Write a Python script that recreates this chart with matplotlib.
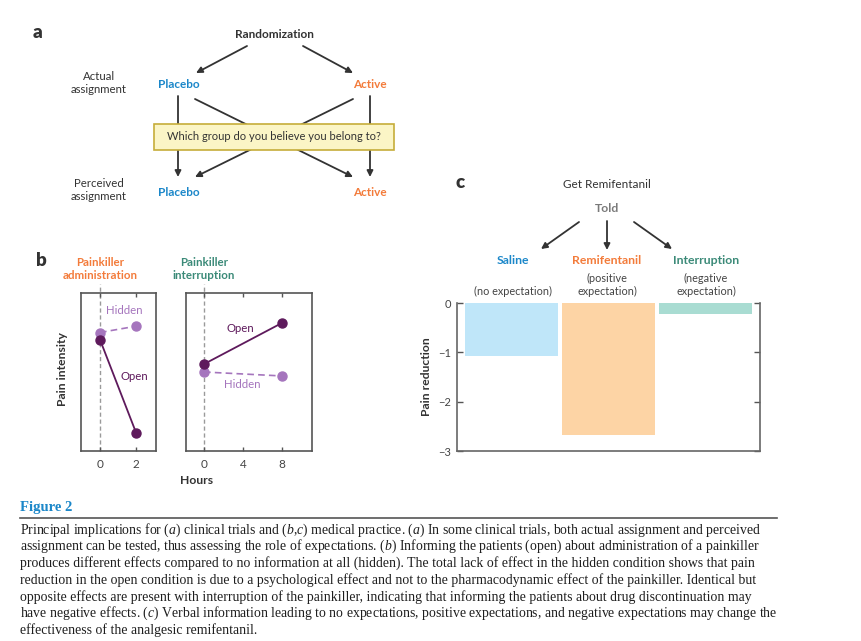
import matplotlib.pyplot as plt

plt.rcParams['font.family'] = ['Lato', 'DejaVu Sans']
plt.rcParams['mathtext.fontset'] = 'custom'
plt.rcParams['mathtext.it'] = 'Liberation Serif:italic'
plt.rcParams['mathtext.rm'] = 'Liberation Serif'

W, H = 862, 641

# panel b data (pain intensity, arbitrary units 0-10)
admin_hours = [0, 2]
admin_open = [7.05, 1.15]
admin_hidden = [7.5, 7.9]
interr_hours = [0, 8]
interr_open = [5.5, 8.1]
interr_hidden = [5.0, 4.75]

# panel c data
groups = ['Saline', 'Remifentanil', 'Interruption']
subtitles = ['(no expectation)', '(positive\nexpectation)', '(negative\nexpectation)']
pain_reduction = [-1.08, -2.68, -0.23]

caption = [
    "Principal implications for ($\\it{a}$) clinical trials and ($\\it{b}$,$\\it{c}$) medical practice. ($\\it{a}$) In some clinical trials, both actual assignment and perceived",
    "assignment can be tested, thus assessing the role of expectations. ($\\it{b}$) Informing the patients (open) about administration of a painkiller",
    "produces different effects compared to no information at all (hidden). The total lack of effect in the hidden condition shows that pain",
    "reduction in the open condition is due to a psychological effect and not to the pharmacodynamic effect of the painkiller. Identical but",
    "opposite effects are present with interruption of the painkiller, indicating that informing the patients about drug discontinuation may",
    "have negative effects. ($\\it{c}$) Verbal information leading to no expectations, positive expectations, and negative expectations may change the",
    "effectiveness of the analgesic remifentanil.",
]

BLUE = '#1b87c9'
ORANGE = '#f37b3a'
GREEN = '#3b8a78'
DARK = '#333333'
OPEN_C = '#5e1a5c'
HID_C = '#a575bd'
BAR_C = ['#bfe6f9', '#fdd4a5', '#a9dcd2']

fig = plt.figure(figsize=(W / 100, H / 100), dpi=100)


def px_axes(l, t, r, b, **kw):
    return fig.add_axes([l / W, 1 - b / H, (r - l) / W, (b - t) / H], **kw)


ov = px_axes(0, 0, W, H, zorder=5)
ov.set_xlim(0, W)
ov.set_ylim(H, 0)
ov.axis('off')


def arrow(x0, y0, x1, y1):
    ov.annotate('', xy=(x1, y1), xytext=(x0, y0),
                arrowprops=dict(arrowstyle='-|>', color=DARK, lw=1.3,
                                mutation_scale=9, shrinkA=0, shrinkB=0))


# ---- panel a ----
ov.text(38, 33, 'a', fontsize=13.5, fontweight='heavy', color=DARK, ha='center', va='center')
ov.text(274, 35, 'Randomization', fontsize=8.5, fontweight='bold', color=DARK, ha='center', va='center')
arrow(247, 46, 196, 73)
arrow(303, 46, 353, 73)
ov.text(99, 83, 'Actual\nassignment', fontsize=8.2, color=DARK, ha='center', va='center', linespacing=1.25)
ov.text(99, 190, 'Perceived\nassignment', fontsize=8.2, color=DARK, ha='center', va='center', linespacing=1.25)
for y in (84, 192):
    ov.text(179, y, 'Placebo', fontsize=8.5, fontweight='bold', color=BLUE, ha='center', va='center')
    ov.text(370, y, 'Active', fontsize=8.5, fontweight='bold', color=ORANGE, ha='center', va='center')
arrow(178, 96, 178, 177)
arrow(370, 96, 370, 177)
arrow(195, 99, 353, 177)
arrow(353, 99, 195, 177)
ov.add_patch(plt.Rectangle((154, 124), 240, 26, facecolor='#fbf5c6', edgecolor='#c6ad3a', lw=1.2, zorder=3))
ov.text(274, 137, 'Which group do you believe you belong to?', fontsize=8.0, color=DARK,
        ha='center', va='center', zorder=4)

# ---- panel b ----
ov.text(41, 260, 'b', fontsize=13.5, fontweight='heavy', color=DARK, ha='center', va='center')
ov.text(100, 269, 'Painkiller\nadministration', fontsize=8.3, fontweight='bold', color=ORANGE,
        ha='center', va='center', linespacing=1.3)
ov.text(204, 269, 'Painkiller\ninterruption', fontsize=8.3, fontweight='bold', color=GREEN,
        ha='center', va='center', linespacing=1.3)

axl = px_axes(81, 293, 156, 451)
axr = px_axes(186, 293, 312, 451)
for ax, hrs, op, hid, xl, ticks in ((axl, admin_hours, admin_open, admin_hidden, (-1.05, 3.1), [0, 2]),
                                    (axr, interr_hours, interr_open, interr_hidden, (-1.85, 11.1), [0, 4, 8])):
    ax.set_xlim(*xl)
    ax.set_ylim(0, 10)
    ax.plot([0, 0], [0, 10.6], ls=(0, (3, 2)), color='#9a9a9a', lw=1, clip_on=False, zorder=1)
    ax.plot(hrs, hid, ls=(0, (4, 2.5)), color=HID_C, lw=1.2, marker='o', ms=6.5, zorder=3)
    ax.plot(hrs, op, ls='-', color=OPEN_C, lw=1.3, marker='o', ms=6.5, zorder=4)
    ax.set_xticks(ticks)
    ax.set_yticks([])
    ax.tick_params(axis='x', direction='in', top=True, length=3, width=1, colors='#555555',
                   labelsize=8.5, labelcolor='#444444', pad=6)
    for s in ax.spines.values():
        s.set_color('#555555')
        s.set_linewidth(1.2)

ov.text(124, 311, 'Hidden', fontsize=8.2, color=HID_C, ha='center', va='center')
ov.text(134, 377, 'Open', fontsize=8.2, color=OPEN_C, ha='center', va='center')
ov.text(240, 329, 'Open', fontsize=8.2, color=OPEN_C, ha='center', va='center')
ov.text(242, 384, 'Hidden', fontsize=8.2, color=HID_C, ha='center', va='center')
ov.text(63, 369, 'Pain intensity', fontsize=8.7, fontweight='bold', color=DARK,
        ha='center', va='center', rotation=90)
ov.text(197, 480, 'Hours', fontsize=8.7, fontweight='bold', color=DARK, ha='center', va='center')

# ---- panel c ----
ov.text(460, 183, 'c', fontsize=13.5, fontweight='heavy', color=DARK, ha='center', va='center')
ov.text(607, 184, 'Get Remifentanil', fontsize=8.5, color=DARK, ha='center', va='center')
ov.text(607, 209, 'Told', fontsize=8.8, fontweight='bold', color='#7a7a7a', ha='center', va='center')
arrow(579, 222, 541, 249)
arrow(607, 221, 607, 250)
arrow(634, 222, 672, 249)

axc = px_axes(457, 303, 760, 451)
xs = list(range(len(groups)))
axc.bar(xs, pain_reduction, width=0.96, color=BAR_C)
axc.set_xlim(-0.565, 2.565)
axc.set_ylim(-3, 0)
axc.set_yticks([0, -1, -2, -3])
axc.set_xticks([])
axc.tick_params(axis='y', direction='in', right=True, length=4, width=1, colors='#555555',
                labelsize=8, labelcolor='#444444', pad=4)
axc.spines['top'].set_visible(False)
for s in ('left', 'right', 'bottom'):
    axc.spines[s].set_color('#666666')
    axc.spines[s].set_linewidth(1.2)
ov.text(427, 377, 'Pain reduction', fontsize=8.7, fontweight='bold', color=DARK,
        ha='center', va='center', rotation=90)

gcol = [BLUE, ORANGE, GREEN]
gx = [513, 607, 706]
sub_y = [291, 285, 285]
for i in range(len(groups)):
    ov.text(gx[i], 261, groups[i], fontsize=8.8, fontweight='bold', color=gcol[i], ha='center', va='center')
    ov.text(gx[i], sub_y[i], subtitles[i], fontsize=7.8, color='#444444', ha='center', va='center',
            linespacing=1.25)

# ---- caption ----
ov.text(20, 508, 'Figure 2', fontsize=10.5, color=BLUE, fontweight='bold',
        family='Liberation Serif', ha='left', va='center')
ov.plot([20, 777], [518, 518], color='#555555', lw=1.2)
for i, line in enumerate(caption):
    ov.text(20, 530 + i * 16.7, line, fontsize=9.9, color='#1e1e1e', family='Liberation Serif',
            ha='left', va='center')

fig.savefig('out.png', dpi=100)
